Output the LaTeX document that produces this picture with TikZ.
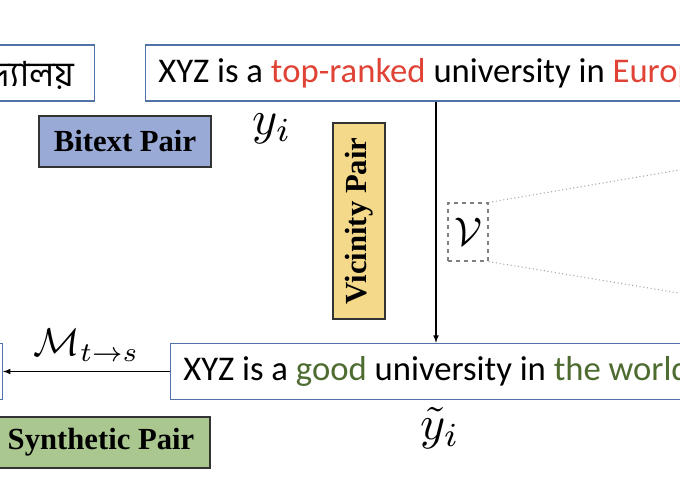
\documentclass[tikz,border=0pt]{standalone}
\usepackage{graphicx}
\usepackage{fontspec}
\newfontfamily\sentfont{Carlito}
\newfontfamily\tagfont{Liberation Serif}
\newfontfamily\bnfont[Script=Bengali]{Hind Siliguri}
\definecolor{boxblue}{HTML}{5072A8}
\definecolor{topred}{HTML}{E04335}
\definecolor{goodgreen}{HTML}{4E6B30}
\definecolor{bitextfill}{HTML}{9AAAD6}
\definecolor{vicinfill}{HTML}{F4D98A}
\definecolor{synfill}{HTML}{A9C78F}
\newcommand{\bigmath}[2]{\scalebox{#1}{$#2$}}

\begin{document}
\begin{tikzpicture}[>=latex, x=0.75pt, y=-0.75pt,
  sent/.style={draw=boxblue, line width=1.1pt, fill=white, anchor=west,
    minimum height=42pt, inner xsep=9.5pt,
    font=\sentfont\fontsize{26}{30}\selectfont},
  tagbox/.style={draw=black!80, line width=1pt, minimum height=38.25pt,
    font=\tagfont\bfseries\fontsize{23}{27}\selectfont}]
\clip (0,0) rectangle (680,500);
% source / target sentences
\node[sent, anchor=east, inner xsep=15pt] (src) at (95,73) {\bnfont বিশ্ববিদ্যালয়};
\node[sent] (tgt) at (145,73) {XYZ is a \textcolor{topred}{top-ranked} university in \textcolor{topred}{Europe}.};
\path (tgt.south west) ++(127,27) node (yi) {\bigmath{3.6}{y_i}};
% pair tags
\node[tagbox, fill=bitextfill, minimum width=129pt] (bitext) at (125,141.5) {Bitext Pair};
\node[tagbox, fill=vicinfill, rotate=90, minimum width=147pt, minimum height=39pt] (vicin) at (359,221) {Vicinity Pair};
\node[tagbox, fill=synfill, minimum width=163.5pt] (synth) at (101,442.5) {Synthetic Pair};
% vicinity sample
\node[draw=gray, dashed, line width=0.8pt, minimum width=30pt, minimum height=43.5pt,
  inner sep=0pt] (vic) at (468,232) {\bigmath{3}{\mathcal{V}}};
\coordinate (zoomtop) at (682,169.5);
\coordinate (zoombot) at (682,293.5);
\draw[gray!70, dotted, line width=0.8pt] (vic.north east) -- (zoomtop);
\draw[gray!70, dotted, line width=0.8pt] (vic.south east) -- (zoombot);
% synthetic sentence
\node[sent] (syn) at (170,371.5) {XYZ is a \textcolor{goodgreen}{good} university in \textcolor{goodgreen}{the world}.};
\node[sent, anchor=east, minimum width=60pt] (back) at (3,371.5) {};
\path (syn.south west) ++(270,28) node (yti) {\bigmath{3.6}{\tilde{y}_i}};
% arrows
\coordinate (drop) at (436,0);
\draw[->, line width=0.9pt] (drop |- tgt.south) -- (drop |- syn.north);
\draw[->, line width=0.9pt] (syn.west) -- (back.east)
  node[midway, above=4pt] (mts) {\bigmath{2.9}{\mathcal{M}_{t\to s}}};
\end{tikzpicture}
\end{document}
